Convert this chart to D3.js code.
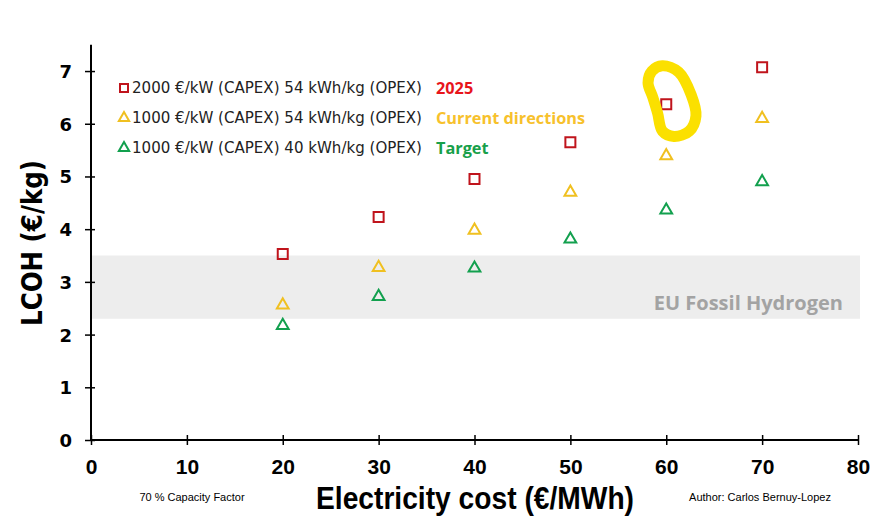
<!DOCTYPE html>
<html><head><meta charset="utf-8">
<script src="https://cdn.jsdelivr.net/npm/d3@7"></script>
<style>body{margin:0;background:#fff}svg{display:block}</style>
</head><body>
<script>
const electricity = [20, 30, 40, 50, 60, 70];
const capex2000_54 = [3.53, 4.23, 4.95, 5.65, 6.37, 7.07];
const capex1000_54 = [2.56, 3.27, 3.98, 4.70, 5.39, 6.10];
const capex1000_40 = [2.17, 2.72, 3.26, 3.81, 4.36, 4.90];
const seriesNames = ["2000 €/kW (CAPEX) 54 kWh/kg (OPEX)", "1000 €/kW (CAPEX) 54 kWh/kg (OPEX)", "1000 €/kW (CAPEX) 40 kWh/kg (OPEX)"];
const scenarioLabels = ["2025", "Current directions", "Target"];
const xTicks = [0, 10, 20, 30, 40, 50, 60, 70, 80];
const yTicks = [0, 1, 2, 3, 4, 5, 6, 7];
const fossilBand = [2.3, 3.5];
const fossilLabel = "EU Fossil Hydrogen";
const highlightLoop = [[59.6,7.1],[61.3,6.98],[62.6,6.55],[63.1,6.15],[62.4,5.86],[60.8,5.76],[59.6,5.86],[59.1,6.2],[58.6,6.5],[58.1,6.78],[58.5,7.0]];

const W = 892, H = 518;
const svg = d3.select("body").append("svg").attr("width", W).attr("height", H);
const x = d3.scaleLinear().domain([0, 80]).range([91, 858]);
const y = d3.scaleLinear().domain([0, 7.5]).range([440, 44.7]);

const series = [
  {vals: capex2000_54, color: "#c0141c", shape: "square", labelColor: "#e8151b"},
  {vals: capex1000_54, color: "#f0c020", shape: "tri", labelColor: "#f7c12c"},
  {vals: capex1000_40, color: "#12a04e", shape: "tri", labelColor: "#18a04a"}
];

// fossil band
svg.append("rect").attr("x", x(0)).attr("width", x(80) - x(0) + 2)
  .attr("y", y(fossilBand[1])).attr("height", y(fossilBand[0]) - y(fossilBand[1]))
  .attr("fill", "#ededed");
svg.append("text").attr("x", 843).attr("y", y(fossilBand[0]) - 9).attr("text-anchor", "end")
  .attr("font-family", "Open Sans").attr("font-weight", "bold").attr("font-size", 20)
  .attr("fill", "#a3a3a3").text(fossilLabel);

// axes
const fontTick = "'Liberation Sans Narrow', 'Liberation Sans', sans-serif";
const xAxis = svg.append("g").attr("transform", `translate(0,${y(0)})`)
  .call(d3.axisBottom(x).tickValues(xTicks).tickSize(0).tickPadding(0));
xAxis.select(".domain").remove();
xAxis.append("line").attr("x1", x(0)).attr("x2", x(80)).attr("stroke", "#000").attr("stroke-width", 2);
xAxis.selectAll(".tick").append("line").attr("y1", -5).attr("y2", 5).attr("stroke", "#000").attr("stroke-width", 1.5);
xAxis.selectAll(".tick text").attr("y", 34).attr("dy", null).attr("font-family", fontTick)
  .attr("font-weight", "bold").attr("font-size", 21).attr("fill", "#000");

const yAxis = svg.append("g").attr("transform", `translate(${x(0)},0)`)
  .call(d3.axisLeft(y).tickValues(yTicks).tickSize(0).tickPadding(0));
yAxis.select(".domain").remove();
yAxis.append("line").attr("y1", y(7.5)).attr("y2", y(0)).attr("stroke", "#000").attr("stroke-width", 2);
yAxis.selectAll(".tick").append("line").attr("x1", -6).attr("x2", 4).attr("stroke", "#000").attr("stroke-width", 1.5);
yAxis.selectAll(".tick text").attr("x", -19).attr("dy", "0.36em").attr("font-family", "'DejaVu Sans', sans-serif")
  .attr("font-weight", "bold").attr("font-size", 18).attr("fill", "#000");

// axis titles
svg.append("text").attr("transform", `translate(42,243) rotate(-90)`).attr("text-anchor", "middle")
  .attr("font-family", "'DejaVu Sans', sans-serif").attr("font-weight", "bold").attr("font-size", 29)
  .attr("textLength", 166).attr("lengthAdjust", "spacingAndGlyphs")
  .text("LCOH (€/kg)");
svg.append("text").attr("x", 475).attr("y", 509).attr("text-anchor", "middle")
  .attr("font-family", fontTick).attr("font-weight", "bold").attr("font-size", 31)
  .attr("textLength", 318).attr("lengthAdjust", "spacingAndGlyphs")
  .text("Electricity cost (€/MWh)");

svg.append("text").attr("x", 192).attr("y", 501).attr("text-anchor", "middle")
  .attr("font-family", fontTick).attr("font-size", 11).text("70 % Capacity Factor");
svg.append("text").attr("x", 760).attr("y", 501).attr("text-anchor", "middle")
  .attr("font-family", fontTick).attr("font-size", 11).text("Author: Carlos Bernuy-Lopez");

// markers
const sq = d3.symbol().type(d3.symbolSquare).size(100);
const tri = d3.symbol().type(d3.symbolTriangle).size(60);
series.forEach(s => {
  svg.append("g").selectAll("path").data(s.vals).join("path")
    .attr("d", s.shape === "square" ? sq() : tri())
    .attr("transform", (v, i) => `translate(${x(electricity[i])},${y(v)})`)
    .attr("fill", "none").attr("stroke", s.color).attr("stroke-width", 2);
});

// legend
const lsq = d3.symbol().type(d3.symbolSquare).size(64);
const ltri = d3.symbol().type(d3.symbolTriangle).size(46);
series.forEach((s, i) => {
  const ly = 88 + i * 30;
  svg.append("path").attr("d", s.shape === "square" ? lsq() : ltri())
    .attr("transform", `translate(124,${ly})`).attr("fill", "none").attr("stroke", s.color).attr("stroke-width", 2);
  svg.append("text").attr("x", 132).attr("y", ly).attr("dy", "0.36em")
    .attr("font-family", "'DejaVu Sans', sans-serif").attr("font-size", 15).attr("fill", "#222")
    .attr("textLength", 290).attr("lengthAdjust", "spacingAndGlyphs")
    .text(seriesNames[i]);
  svg.append("text").attr("x", 436).attr("y", ly).attr("dy", "0.36em")
    .attr("font-family", "'Open Sans', sans-serif").attr("font-weight", "bold").attr("font-size", 16.3)
    .attr("fill", s.labelColor).text(scenarioLabels[i]);
});

// highlight loop annotation
svg.append("path")
  .attr("d", d3.line().x(d => x(d[0])).y(d => y(d[1])).curve(d3.curveCatmullRomClosed)(highlightLoop))
  .attr("fill", "none").attr("stroke", "#fbe000").attr("stroke-width", 11).attr("stroke-linejoin", "round");
</script>
</body></html>
